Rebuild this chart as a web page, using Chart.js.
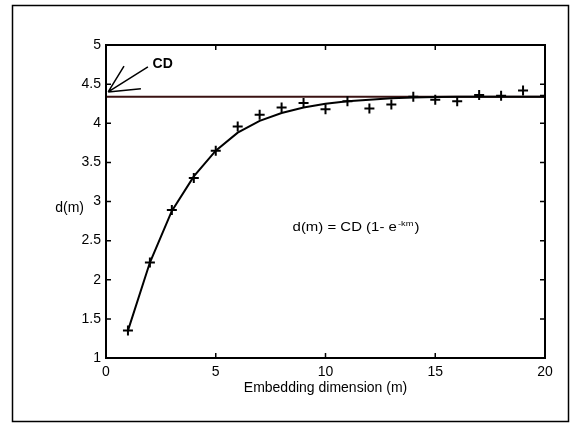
<!DOCTYPE html>
<html><head><meta charset="utf-8">
<script src="https://cdn.jsdelivr.net/npm/chart.js@4.4.0/dist/chart.umd.min.js"></script>
<style>html,body{margin:0;padding:0;background:#fff;}#wrap{width:570px;height:423px;position:relative;}</style>
</head><body><div id="wrap"><canvas id="c" width="570" height="423" style="width:570px;height:423px"></canvas></div>
<script>
const dimensions = [1,2,3,4,5,6,7,8,9,10,11,12,13,14,15,16,17,18,19,20];
const measured = [1.35,2.22,2.89,3.30,3.65,3.96,4.11,4.20,4.26,4.18,4.28,4.19,4.24,4.34,4.30,4.28,4.36,4.35,4.42,4.35];
const fitted = [1.35,2.22,2.88,3.32,3.65,3.88,4.03,4.13,4.20,4.25,4.28,4.30,4.32,4.33,4.335,4.34,4.34,4.34,4.34,4.34];
const cdValue = 4.34;
const xRange = [0,20];
const xTicks = [0,5,10,15,20];
const yTicks = [1,1.5,2,2.5,3,3.5,4,4.5,5];
const cdArrowOrigin = [0.1,4.40];
const cdArrowEnds = [[0.82,4.73],[1.91,4.72],[1.59,4.44]];
const cdLabelPos = [2.12,4.75];
const eqPos = [8.5,2.62];

const FONT = '"Liberation Sans", Arial, Helvetica, sans-serif';

const decor = {
  id:'decor',
  afterDraw(chart){
    const ctx = chart.ctx, ca = chart.chartArea;
    const xs = chart.scales.x, ys = chart.scales.y;
    ctx.save();
    ctx.strokeStyle = '#000'; ctx.lineWidth = 1.5;
    ctx.strokeRect(12.5, 5.5, 556, 416);
    ctx.lineWidth = 2;
    ctx.strokeRect(ca.left, ca.top, ca.right-ca.left, ca.bottom-ca.top);
    ctx.lineWidth = 1.5;
    ctx.beginPath();
    xTicks.forEach(v=>{
      const px = xs.getPixelForValue(v);
      ctx.moveTo(px, ca.bottom); ctx.lineTo(px, ca.bottom-5);
      ctx.moveTo(px, ca.top); ctx.lineTo(px, ca.top+5);
    });
    yTicks.forEach(v=>{
      const py = ys.getPixelForValue(v);
      ctx.moveTo(ca.left, py); ctx.lineTo(ca.left+5, py);
      ctx.moveTo(ca.right, py); ctx.lineTo(ca.right-5, py);
    });
    ctx.stroke();
    ctx.lineWidth = 1.5;
    ctx.beginPath();
    const ox = xs.getPixelForValue(cdArrowOrigin[0]), oy = ys.getPixelForValue(cdArrowOrigin[1]);
    cdArrowEnds.forEach(e=>{
      ctx.moveTo(ox, oy);
      ctx.lineTo(xs.getPixelForValue(e[0]), ys.getPixelForValue(e[1]));
    });
    ctx.stroke();
    ctx.fillStyle = '#000';
    ctx.font = 'bold 14px ' + FONT;
    ctx.textBaseline = 'middle'; ctx.textAlign = 'left';
    ctx.fillText('CD', xs.getPixelForValue(cdLabelPos[0]), ys.getPixelForValue(cdLabelPos[1]));
    const ex0 = xs.getPixelForValue(eqPos[0]), ey = ys.getPixelForValue(eqPos[1]);
    ctx.save();
    ctx.translate(ex0, ey); ctx.scale(1.15, 1);
    ctx.textBaseline = 'alphabetic';
    let ex = 0;
    ctx.font = '13px ' + FONT;
    const p1 = 'd(m) = CD (1- e';
    ctx.fillText(p1, ex, 0);
    ex += ctx.measureText(p1).width + 1;
    ctx.font = '8px ' + FONT;
    ctx.fillText('-km', ex, -5);
    ex += ctx.measureText('-km').width + 1;
    ctx.font = '13px ' + FONT;
    ctx.fillText(')', ex, 0);
    ctx.restore();
    ctx.font = '14px ' + FONT;
    ctx.textAlign = 'right'; ctx.textBaseline = 'middle';
    ctx.fillText('d(m)', 84, 208);
    ctx.textAlign = 'center';
    ctx.fillText('Embedding dimension (m)', (ca.left+ca.right)/2, 388);
    ctx.restore();
  }
};

new Chart(document.getElementById('c'), {
  type:'scatter',
  data:{
    datasets:[
      {label:'measured', data: dimensions.map((m,i)=>({x:m,y:measured[i]})), showLine:false,
        pointStyle:'cross', pointRadius:5, pointBorderWidth:2, borderColor:'#000', backgroundColor:'#000'},
      {label:'fit', data: dimensions.map((m,i)=>({x:m,y:fitted[i]})), showLine:true,
        pointRadius:0, borderColor:'#000', borderWidth:2, tension:0},
      {label:'CD', data: xRange.map(x=>({x:x,y:cdValue})), showLine:true,
        pointRadius:0, borderColor:'#3a1212', borderWidth:2}
    ]
  },
  options:{
    responsive:false, animation:false, devicePixelRatio:1,
    layout:{padding:{left:0,right:25,top:45,bottom:0}},
    plugins:{legend:{display:false}, tooltip:{enabled:false}},
    scales:{
      x:{type:'linear', min:0, max:20,
        afterFit(s){ s.height = 65; },
        afterBuildTicks(s){ s.ticks = xTicks.map(v=>({value:v})); },
        ticks:{font:{size:14,family:FONT}, color:'#000', padding:6, maxRotation:0, autoSkip:false, callback:v=>String(v)},
        grid:{drawOnChartArea:false, drawTicks:false},
        border:{display:false}
      },
      y:{type:'linear', min:1, max:5,
        afterFit(s){ s.width = 106; },
        afterBuildTicks(s){ s.ticks = yTicks.map(v=>({value:v})); },
        ticks:{font:{size:14,family:FONT}, color:'#000', padding:5, autoSkip:false, callback:v=>String(v)},
        grid:{drawOnChartArea:false, drawTicks:false},
        border:{display:false}
      }
    }
  },
  plugins:[decor]
});
</script>
</body></html>
